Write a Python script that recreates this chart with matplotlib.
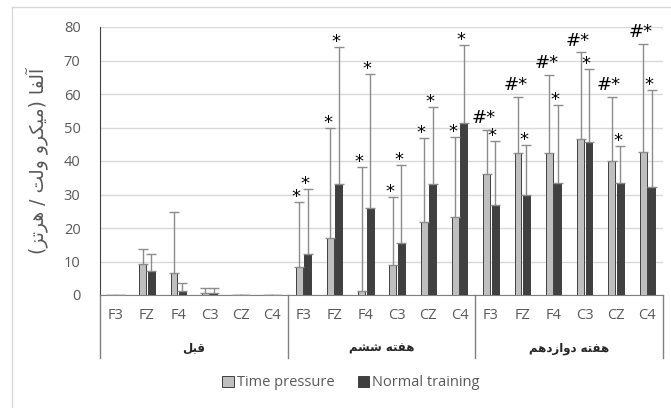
import numpy as np
import matplotlib
matplotlib.use("Agg")
import matplotlib.pyplot as plt
from matplotlib.patches import Patch
from matplotlib.lines import Line2D
import matplotlib.transforms as mtransforms

# data
electrodes = ['F3', 'FZ', 'F4', 'C3', 'CZ', 'C4']
groups = ['قبل', 'هفته ششم', 'هفته دوازدهم']
y_label = 'آلفا (میکرو ولت / هرتز)'

tp_mean = [0.1, 9.4, 6.6, 0.6, 0.1, 0.1,
           8.4, 17.0, 1.3, 8.9, 21.7, 23.3,
           36.2, 42.4, 42.4, 46.6, 40.0, 42.7]
tp_sd = [0.0, 4.3, 18.1, 1.6, 0.0, 0.0,
         19.5, 32.8, 36.8, 20.3, 25.2, 23.9,
         13.1, 16.8, 23.2, 25.8, 19.2, 32.3]
nt_mean = [0.0, 7.1, 1.1, 0.6, 0.0, 0.0,
           12.1, 33.1, 26.0, 15.6, 33.1, 51.4,
           26.8, 29.8, 33.5, 45.7, 33.3, 32.1]
nt_sd = [0.0, 5.0, 2.4, 1.6, 0.0, 0.0,
         19.5, 40.9, 40.0, 23.3, 23.1, 23.2,
         19.1, 15.0, 23.3, 21.9, 11.2, 29.0]
tp_marks = [''] * 6 + ['*'] * 6 + ['#*'] * 6
nt_marks = [''] * 6 + ['*'] * 12

# minimal arabic/persian shaping (matplotlib has no bidi support)
FORMS = {
    'ا': ('\uFE8D', '\uFE8E', None, None),
    'آ': ('\uFE81', '\uFE82', None, None),
    'ب': ('\uFE8F', '\uFE90', '\uFE91', '\uFE92'),
    'ت': ('\uFE95', '\uFE96', '\uFE97', '\uFE98'),
    'د': ('\uFEA9', '\uFEAA', None, None),
    'ر': ('\uFEAD', '\uFEAE', None, None),
    'ز': ('\uFEAF', '\uFEB0', None, None),
    'ش': ('\uFEB5', '\uFEB6', '\uFEB7', '\uFEB8'),
    'ف': ('\uFED1', '\uFED2', '\uFED3', '\uFED4'),
    'ق': ('\uFED5', '\uFED6', '\uFED7', '\uFED8'),
    'ک': ('\uFB8E', '\uFB8F', '\uFB90', '\uFB91'),
    'ل': ('\uFEDD', '\uFEDE', '\uFEDF', '\uFEE0'),
    'م': ('\uFEE1', '\uFEE2', '\uFEE3', '\uFEE4'),
    'ه': ('\uFEE9', '\uFEEA', '\uFEEB', '\uFEEC'),
    'و': ('\uFEED', '\uFEEE', None, None),
    'ی': ('\uFBFC', '\uFBFD', '\uFBFE', '\uFBFF'),
}
MIRROR = {'(': ')', ')': '('}


def farsi(text):
    out = []
    for i, ch in enumerate(text):
        if ch not in FORMS:
            out.append(MIRROR.get(ch, ch))
            continue
        prev = text[i - 1] if i > 0 else ''
        nxt = text[i + 1] if i + 1 < len(text) else ''
        f = FORMS[ch]
        join_prev = prev in FORMS and FORMS[prev][2] is not None
        join_next = nxt in FORMS and f[2] is not None
        if join_prev and join_next:
            out.append(f[3])
        elif join_prev:
            out.append(f[1])
        elif join_next:
            out.append(f[2])
        else:
            out.append(f[0])
    return ''.join(out[::-1])


plt.rcParams['font.family'] = ['Open Sans', 'DejaVu Sans']
txt_color = '#595959'

fig = plt.figure(figsize=(6.71, 4.08), dpi=100)
ax = fig.add_axes([100 / 671, 1 - 295 / 408, 563 / 671, 268 / 408])

n = len(tp_mean)
x = np.arange(n)
w = 0.22
off = 0.135

ax.bar(x - off, tp_mean, w, color='#bfbfbf', edgecolor='#404040', linewidth=0.7, zorder=3)
ax.bar(x + off, nt_mean, w, color='#404040', edgecolor='#404040', linewidth=0.7, zorder=3)
ax.errorbar(x - off, tp_mean, yerr=[np.zeros(n), tp_sd], fmt='none',
            ecolor='#8c8c8c', elinewidth=1, capsize=3.5, capthick=1, zorder=4)
ax.errorbar(x + off, nt_mean, yerr=[np.zeros(n), nt_sd], fmt='none',
            ecolor='#8c8c8c', elinewidth=1, capsize=3.5, capthick=1, zorder=4)

for i in range(n):
    if tp_marks[i]:
        dy = 5 if tp_marks[i] == '#*' else 0
        ax.annotate(tp_marks[i], (x[i] - off, tp_mean[i] + tp_sd[i]), xytext=(-2, dy),
                    textcoords='offset points', ha='center', va='baseline',
                    fontsize=13, family='DejaVu Sans', color='black')
    if nt_marks[i]:
        ax.annotate(nt_marks[i], (x[i] + off, nt_mean[i] + nt_sd[i]), xytext=(-2, 0),
                    textcoords='offset points', ha='center', va='baseline',
                    fontsize=13, family='DejaVu Sans', color='black')

ax.set_xlim(-0.5, n - 0.5)
ax.set_ylim(0, 80)
ax.set_yticks(range(0, 81, 10))
ax.yaxis.grid(True, color='#d9d9d9', linewidth=1)
ax.set_axisbelow(True)
ax.tick_params(axis='y', length=0, pad=14, labelsize=10.5, labelcolor=txt_color)
ax.set_xticks([])
for s in ['top', 'right']:
    ax.spines[s].set_visible(False)
ax.spines['left'].set_color('#404040')
ax.spines['bottom'].set_color('#808080')

# two-level category axis
trans = mtransforms.blended_transform_factory(ax.transData, ax.transAxes)
for i, e in enumerate(electrodes * len(groups)):
    ax.text(i, -0.078, e, transform=trans, ha='center', va='center',
            fontsize=10.5, color=txt_color)
for g, name in enumerate(groups):
    ax.text(g * 6 + 2.5, -0.198, farsi(name), transform=trans, ha='center',
            va='center', fontsize=8.5, fontweight='bold', family='DejaVu Sans',
            color='#262626')
for xv in [-0.5, 5.5, 11.5, 17.5]:
    ax.add_line(Line2D([xv, xv], [0, -0.235], transform=trans, color='#808080',
                       linewidth=1, clip_on=False))

ax.set_ylabel(farsi(y_label), family='DejaVu Sans', fontsize=13.5, color=txt_color)
ax.yaxis.set_label_coords(-0.092, 0.5)

handles = [Patch(facecolor='#bfbfbf', edgecolor='#404040', linewidth=0.7),
           Patch(facecolor='#404040', edgecolor='#404040', linewidth=0.7)]
fig.legend(handles, ['Time pressure', 'Normal training'], loc='center',
           bbox_to_anchor=(351 / 671, 1 - 383 / 408), ncol=2, frameon=False,
           fontsize=10.5, labelcolor=txt_color, handlelength=0.8, handleheight=0.8,
           handletextpad=0.2, columnspacing=1.6)

# light frame of the chart area (cropped at right and bottom)
fig.add_artist(Line2D([12 / 671, 12 / 671], [0, 1 - 7 / 408], transform=fig.transFigure,
                      color='#d9d9d9', linewidth=1))
fig.add_artist(Line2D([12 / 671, 1], [1 - 7 / 408, 1 - 7 / 408], transform=fig.transFigure,
                      color='#d9d9d9', linewidth=1))

fig.savefig('out.png', dpi=100)
